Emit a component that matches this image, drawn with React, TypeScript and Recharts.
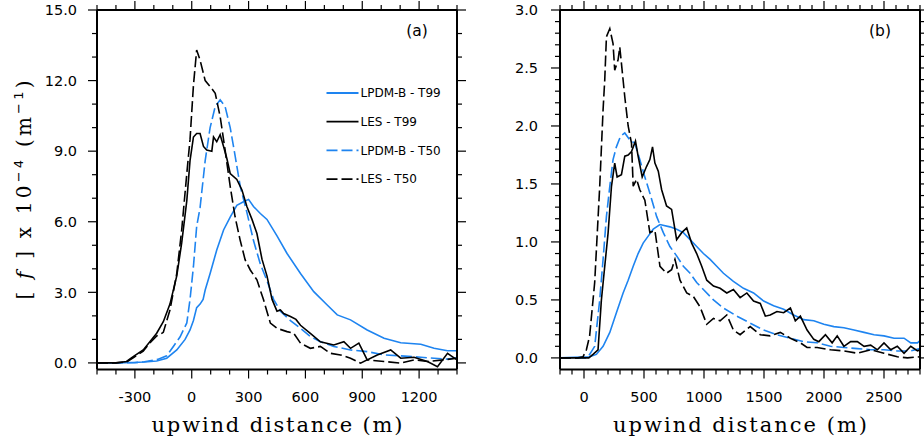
import React from 'react';
import { LineChart, Line, XAxis, YAxis, Legend } from 'recharts';

const BLUE = '#1e84f0';
const DASH = '11 4';

// ---------- Panel (a) ----------
const aXMinor = [-500, -400, -300, -200, -100, 0, 100, 200, 300, 400, 500, 600, 700, 800, 900, 1000, 1100, 1200, 1300, 1400];
const aXMajor = [-300, 0, 300, 600, 900, 1200];
const aYMinor = [0, 1, 2, 3, 4, 5, 6, 7, 8, 9, 10, 11, 12, 13, 14, 15];
const aYMajor = [0, 3, 6, 9, 12, 15];

const aLpdmT99X = [-500, -400, -309, -250, -185, -132, -79, -35, -9, 9, 26, 44, 60, 71, 97, 132, 168, 203, 238, 273, 300, 326, 362, 397, 450, 503, 574, 644, 715, 768, 838, 926, 1015, 1103, 1209, 1279, 1350, 1400];
const aLpdmT99Y = [0, 0, 0.02, 0.04, 0.08, 0.2, 0.55, 1.0, 1.4, 1.8, 2.35, 2.5, 2.7, 3.1, 3.8, 4.8, 5.65, 6.2, 6.7, 6.85, 6.95, 6.65, 6.35, 6.1, 5.4, 4.65, 3.8, 3.03, 2.46, 2.04, 1.83, 1.4, 1.05, 0.86, 0.79, 0.62, 0.52, 0.52];

const aLesT99X = [-500, -400, -344, -309, -256, -221, -185, -150, -115, -79, -53, -26, -9, 9, 26, 44, 62, 79, 106, 115, 132, 150, 168, 185, 203, 238, 265, 291, 318, 344, 371, 397, 424, 450, 468, 485, 521, 550, 574, 626, 679, 750, 803, 838, 882, 909, 926, 979, 1050, 1103, 1173, 1244, 1297, 1350, 1400];
const aLesT99Y = [0, 0, 0.06, 0.27, 0.55, 0.9, 1.26, 1.75, 2.5, 3.7, 5.1, 6.9, 8.6, 9.6, 9.75, 9.75, 9.2, 9.05, 9.0, 9.6, 9.4, 9.7, 9.2, 8.7, 8.05, 7.8, 7.35, 6.65, 6.1, 5.5, 4.4, 3.7, 2.7, 2.2, 2.25, 2.1, 1.97, 1.85, 1.6, 1.26, 0.9, 0.76, 0.9, 0.62, 0.84, 0.41, 0.13, 0.34, 0.55, 0.2, 0.24, 0.06, -0.16, 0.41, 0.13];

const aLpdmT50X = [-500, -300, -250, -180, -132, -97, -62, -26, -9, 9, 26, 44, 71, 97, 124, 150, 176, 203, 229, 256, 291, 326, 362, 397, 432, 468, 521, 574, 626, 679, 750, 838, 926, 1015, 1103, 1209, 1279, 1350, 1400];
const aLpdmT50Y = [0, 0.01, 0.05, 0.15, 0.3, 0.7, 1.1, 1.7, 2.7, 4.1, 5.8, 6.6, 8.6, 10.0, 10.9, 11.18, 10.9, 10.0, 8.8, 7.5, 6.4, 5.2, 4.2, 3.5, 2.7, 2.2, 1.8, 1.47, 1.12, 0.9, 0.7, 0.55, 0.48, 0.34, 0.3, 0.24, 0.2, 0.16, 0.22];

const aLesT50X = [-500, -400, -344, -309, -256, -221, -185, -168, -150, -115, -79, -53, -26, -9, 9, 26, 44, 71, 97, 124, 150, 176, 203, 229, 256, 282, 309, 344, 379, 415, 450, 503, 538, 574, 626, 679, 732, 785, 838, 891, 926, 1015, 1103, 1173, 1244, 1332, 1400];
const aLesT50Y = [0, 0, 0.04, 0.22, 0.5, 0.85, 1.15, 1.2, 1.3, 2.25, 3.8, 5.65, 8.05, 9.5, 11.8, 13.3, 12.87, 12.0, 11.75, 11.46, 10.47, 9.05, 7.5, 6.2, 5.2, 4.38, 3.95, 3.53, 2.68, 1.69, 1.47, 1.33, 1.26, 0.84, 0.62, 0.7, 0.41, 0.34, 0.2, -0.01, 0.13, 0.06, -0.01, 0.13, 0.06, 0.13, 0.2];

// ---------- Panel (b) ----------
const bXMinor = [-200, -100, 0, 100, 200, 300, 400, 500, 600, 700, 800, 900, 1000, 1100, 1200, 1300, 1400, 1500, 1600, 1700, 1800, 1900, 2000, 2100, 2200, 2300, 2400, 2500, 2600, 2700, 2800];
const bXMajor = [0, 500, 1000, 1500, 2000, 2500];
const bYMinor = [0, 0.1, 0.2, 0.3, 0.4, 0.5, 0.6, 0.7, 0.8, 0.9, 1.0, 1.1, 1.2, 1.3, 1.4, 1.5, 1.6, 1.7, 1.8, 1.9, 2.0, 2.1, 2.2, 2.3, 2.4, 2.5, 2.6, 2.7, 2.8, 2.9, 3.0];
const bYMajor = [0, 0.5, 1.0, 1.5, 2.0, 2.5, 3.0];

const bLesT50X = [-200, -50, -8, 20, 47, 89, 131, 159, 173, 187, 215, 242, 256, 284, 298, 312, 340, 368, 396, 410, 438, 465, 507, 549, 591, 633, 688, 730, 758, 800, 856, 911, 967, 1023, 1079, 1134, 1190, 1245, 1301, 1385, 1469, 1552, 1636, 1720, 1803, 1859, 1943, 2054, 2166, 2278, 2389, 2500, 2611, 2695, 2800];
const bLesT50Y = [0, 0, 0.01, 0.07, 0.19, 0.65, 1.48, 2.14, 2.4, 2.77, 2.84, 2.71, 2.48, 2.57, 2.68, 2.54, 2.25, 2.0, 1.85, 1.48, 1.54, 1.45, 1.36, 1.08, 1.1, 0.79, 0.73, 0.76, 0.85, 0.67, 0.56, 0.53, 0.44, 0.29, 0.34, 0.32, 0.37, 0.24, 0.2, 0.27, 0.2, 0.19, 0.22, 0.17, 0.13, 0.09, 0.09, 0.07, 0.06, 0.04, 0.07, 0.04, 0.01, 0.0, 0.01];

const bLesT99X = [-200, 40, 75, 117, 145, 173, 201, 229, 256, 276, 312, 340, 368, 396, 429, 451, 485, 521, 549, 571, 591, 619, 647, 688, 730, 772, 814, 856, 897, 939, 981, 1023, 1079, 1134, 1190, 1245, 1301, 1357, 1413, 1469, 1511, 1552, 1608, 1664, 1720, 1761, 1803, 1859, 1915, 1957, 2012, 2068, 2110, 2166, 2222, 2278, 2334, 2389, 2445, 2500, 2556, 2611, 2667, 2723, 2779, 2800];
const bLesT99Y = [0, 0, 0.03, 0.07, 0.5, 0.79, 1.08, 1.48, 1.68, 1.56, 1.58, 1.74, 1.75, 1.78, 1.87, 1.74, 1.56, 1.65, 1.71, 1.82, 1.68, 1.61, 1.45, 1.31, 1.28, 1.02, 1.08, 1.12, 0.99, 0.9, 0.79, 0.67, 0.62, 0.6, 0.56, 0.59, 0.52, 0.56, 0.49, 0.47, 0.36, 0.37, 0.4, 0.39, 0.43, 0.32, 0.36, 0.24, 0.16, 0.14, 0.2, 0.13, 0.19, 0.1, 0.14, 0.14, 0.1, 0.11, 0.07, 0.13, 0.07, 0.1, 0.04, 0.1, 0.06, 0.07];

const bLpdmT50X = [-200, 20, 47, 89, 131, 159, 187, 215, 242, 270, 304, 340, 382, 424, 465, 507, 549, 605, 661, 716, 772, 828, 884, 939, 995, 1079, 1162, 1274, 1385, 1497, 1608, 1720, 1831, 1943, 2054, 2166, 2278, 2389, 2500, 2611, 2723, 2800];
const bLpdmT50Y = [0, 0, 0.03, 0.1, 0.5, 0.85, 1.22, 1.48, 1.71, 1.82, 1.91, 1.94, 1.88, 1.85, 1.71, 1.56, 1.42, 1.22, 1.08, 0.96, 0.88, 0.79, 0.73, 0.65, 0.59, 0.5, 0.43, 0.36, 0.3, 0.24, 0.2, 0.17, 0.14, 0.13, 0.1, 0.09, 0.08, 0.07, 0.07, 0.06, 0.06, 0.08];

const bLpdmT99X = [-200, 47, 103, 159, 215, 270, 326, 368, 410, 451, 493, 535, 577, 633, 716, 772, 828, 884, 939, 995, 1051, 1106, 1162, 1245, 1329, 1413, 1497, 1580, 1664, 1747, 1831, 1915, 1999, 2082, 2166, 2250, 2334, 2417, 2500, 2584, 2667, 2723, 2779, 2800];
const bLpdmT99Y = [0, 0.01, 0.03, 0.1, 0.22, 0.39, 0.56, 0.67, 0.79, 0.9, 0.99, 1.05, 1.11, 1.15, 1.13, 1.11, 1.08, 1.02, 0.96, 0.9, 0.85, 0.79, 0.73, 0.66, 0.6, 0.56, 0.49, 0.45, 0.42, 0.37, 0.33, 0.32, 0.29, 0.27, 0.26, 0.24, 0.22, 0.2, 0.19, 0.17, 0.17, 0.13, 0.13, 0.15];

const legendNames = ['LPDM-B - T99', 'LES - T99', 'LPDM-B - T50', 'LES - T50'];
const legendColors = [BLUE, '#000', BLUE, '#000'];
const legendDash = [undefined, undefined, DASH, DASH];

const xTitle = 'upwind distance (m)';

const zip = (xs: number[], ys: number[]) => xs.map((x, i) => ({ x, y: ys[i] }));

const TICK_FONT = '"DejaVu Sans", Verdana, sans-serif';
const SERIF = '"DejaVu Serif", serif';
const TOP = 10;
const BOTTOM = 369.5;

function makeTick(side: string, axisPos: number, majors: number[], showLabel: boolean, digits: number, gap: number) {
  return (props: any) => {
    const { payload } = props;
    let { x, y } = props;
    if (side === 'left' || side === 'right') x = axisPos;
    else y = axisPos;
    const v = Number(payload.value);
    const major = majors.some((m) => Math.abs(m - v) < 1e-6);
    const len = major ? 9 : 5;
    let x2 = x, y2 = y;
    if (side === 'bottom') y2 = y + len;
    if (side === 'top') y2 = y - len;
    if (side === 'left') x2 = x - len;
    if (side === 'right') x2 = x + len;
    let label = null;
    if (showLabel && major) {
      const txt = v.toFixed(digits);
      if (side === 'bottom') {
        label = (
          <text x={x} y={y + 32} textAnchor="middle" fontFamily={TICK_FONT} fontSize={14.5} fill="#000">{txt}</text>
        );
      } else if (side === 'left') {
        label = (
          <text x={x - gap} y={y} dy="0.36em" textAnchor="end" fontFamily={TICK_FONT} fontSize={14.5} fill="#000">{txt}</text>
        );
      }
    }
    return (
      <g>
        <line x1={x} y1={y} x2={x2} y2={y2} stroke="#000" strokeWidth={1.2} />
        {label}
      </g>
    );
  };
}

function LegendBox() {
  return (
    <svg width={140} height={110}>
      {legendNames.map((n, i) => (
        <g key={n}>
          <line x1={6.5} x2={38.5} y1={13 + i * 28.7} y2={13 + i * 28.7} stroke={legendColors[i]} strokeWidth={1.8} strokeDasharray={legendDash[i]} />
          <text x={40.5} y={13 + i * 28.7} dy="0.36em" fontFamily={TICK_FONT} fontSize={12} fill="#000">{n}</text>
        </g>
      ))}
    </svg>
  );
}

type PanelProps = {
  width: number;
  leftW: number;
  rightW: number;
  gap: number;
  xDomain: [number, number];
  yDomain: [number, number];
  xMinor: number[];
  xMajor: number[];
  yMinor: number[];
  yMajor: number[];
  xDigits: number;
  yDigits: number;
  series: { data: { x: number; y: number }[]; color: string; dash?: string; name: string }[];
  legend?: boolean;
};

function Panel(p: PanelProps) {
  const rightPos = p.width - p.rightW;
  return (
    <LineChart width={p.width} height={447} margin={{ top: 0, right: 0, bottom: 0, left: 0 }}>
      <XAxis xAxisId="b" orientation="bottom" type="number" dataKey="x" domain={p.xDomain} allowDataOverflow
        ticks={p.xMinor} interval={0} height={447 - BOTTOM} tickSize={0} tickMargin={0} tickLine={false}
        axisLine={{ stroke: '#000', strokeWidth: 2 }} tick={makeTick('bottom', BOTTOM, p.xMajor, true, p.xDigits, 0)} />
      <XAxis xAxisId="t" orientation="top" type="number" dataKey="x" domain={p.xDomain} allowDataOverflow
        ticks={p.xMinor} interval={0} height={TOP} tickSize={0} tickMargin={0} tickLine={false}
        axisLine={{ stroke: '#000', strokeWidth: 2 }} tick={makeTick('top', TOP, p.xMajor, false, 0, 0)} />
      <YAxis yAxisId="l" orientation="left" type="number" domain={p.yDomain} allowDataOverflow
        ticks={p.yMinor} interval={0} width={p.leftW} tickSize={0} tickMargin={0} tickLine={false}
        axisLine={{ stroke: '#000', strokeWidth: 2 }} tick={makeTick('left', p.leftW, p.yMajor, true, p.yDigits, p.gap)} />
      <YAxis yAxisId="r" orientation="right" type="number" domain={p.yDomain} allowDataOverflow
        ticks={p.yMinor} interval={0} width={p.rightW} tickSize={0} tickMargin={0} tickLine={false}
        axisLine={{ stroke: '#000', strokeWidth: 2 }} tick={makeTick('right', rightPos, p.yMajor, false, 0, 0)} />
      {p.series.map((s) => (
        <Line key={s.name} data={s.data} dataKey="y" name={s.name} xAxisId="b" yAxisId="l" type="linear"
          stroke={s.color} strokeWidth={1.6} strokeDasharray={s.dash} dot={false} activeDot={false}
          isAnimationActive={false} />
      ))}
      {p.legend && (
        <Legend layout="vertical" align="center" verticalAlign="middle" content={() => <LegendBox />}
          wrapperStyle={{ position: 'absolute', left: 320, top: 80, width: 140, height: 110 }} />
      )}
    </LineChart>
  );
}

export default function App() {
  const aSeries = [
    { data: zip(aLpdmT99X, aLpdmT99Y), color: BLUE, name: 'LPDM-B - T99' },
    { data: zip(aLpdmT50X, aLpdmT50Y), color: BLUE, dash: DASH, name: 'LPDM-B - T50' },
    { data: zip(aLesT50X, aLesT50Y), color: '#000', dash: DASH, name: 'LES - T50' },
    { data: zip(aLesT99X, aLesT99Y), color: '#000', name: 'LES - T99' },
  ];
  const bSeries = [
    { data: zip(bLpdmT99X, bLpdmT99Y), color: BLUE, name: 'LPDM-B - T99' },
    { data: zip(bLpdmT50X, bLpdmT50Y), color: BLUE, dash: DASH, name: 'LPDM-B - T50' },
    { data: zip(bLesT50X, bLesT50Y), color: '#000', dash: DASH, name: 'LES - T50' },
    { data: zip(bLesT99X, bLesT99Y), color: '#000', name: 'LES - T99' },
  ];
  return (
    <div style={{ position: 'absolute', left: 0, top: 0, width: 924, height: 447, background: '#fff', overflow: 'hidden' }}>
      <div style={{ position: 'absolute', left: 0, top: 0 }}>
        <Panel width={470} leftW={97} rightW={13} gap={20} xDomain={[-500, 1400]} yDomain={[-0.28, 15]}
          xMinor={aXMinor} xMajor={aXMajor} yMinor={aYMinor} yMajor={aYMajor} xDigits={0} yDigits={1}
          series={aSeries} legend />
      </div>
      <div style={{ position: 'absolute', left: 470, top: 0 }}>
        <Panel width={454} leftW={90} rightW={4} gap={22} xDomain={[-200, 2800]} yDomain={[-0.1, 3]}
          xMinor={bXMinor} xMajor={bXMajor} yMinor={bYMinor} yMajor={bYMajor} xDigits={0} yDigits={1}
          series={bSeries} />
      </div>
      <svg width={924} height={447} style={{ position: 'absolute', left: 0, top: 0, pointerEvents: 'none' }}>
        <text x={277} y={432} textAnchor="middle" fontFamily={SERIF} fontSize={21} textLength={251} lengthAdjust="spacing" fill="#000">{xTitle}</text>
        <text x={740} y={432} textAnchor="middle" fontFamily={SERIF} fontSize={21} textLength={254} lengthAdjust="spacing" fill="#000">{xTitle}</text>
        <text transform="translate(31,190) rotate(-90)" textAnchor="middle" fontFamily={SERIF} fontSize={20} fill="#000" textLength={219} lengthAdjust="spacing">
          [ <tspan fontStyle="italic">f</tspan> ] x 10<tspan dy={-8} fontSize={13} fontFamily={TICK_FONT}>−4</tspan><tspan dy={8}> (m</tspan><tspan dy={-8} fontSize={13} fontFamily={TICK_FONT}>−1</tspan><tspan dy={8}>)</tspan>
        </text>
        <text x={417} y={30} dy="0.36em" textAnchor="middle" fontFamily={TICK_FONT} fontSize={15.5} fill="#000">(a)</text>
        <text x={880} y={30} dy="0.36em" textAnchor="middle" fontFamily={TICK_FONT} fontSize={15.5} fill="#000">(b)</text>
      </svg>
    </div>
  );
}
